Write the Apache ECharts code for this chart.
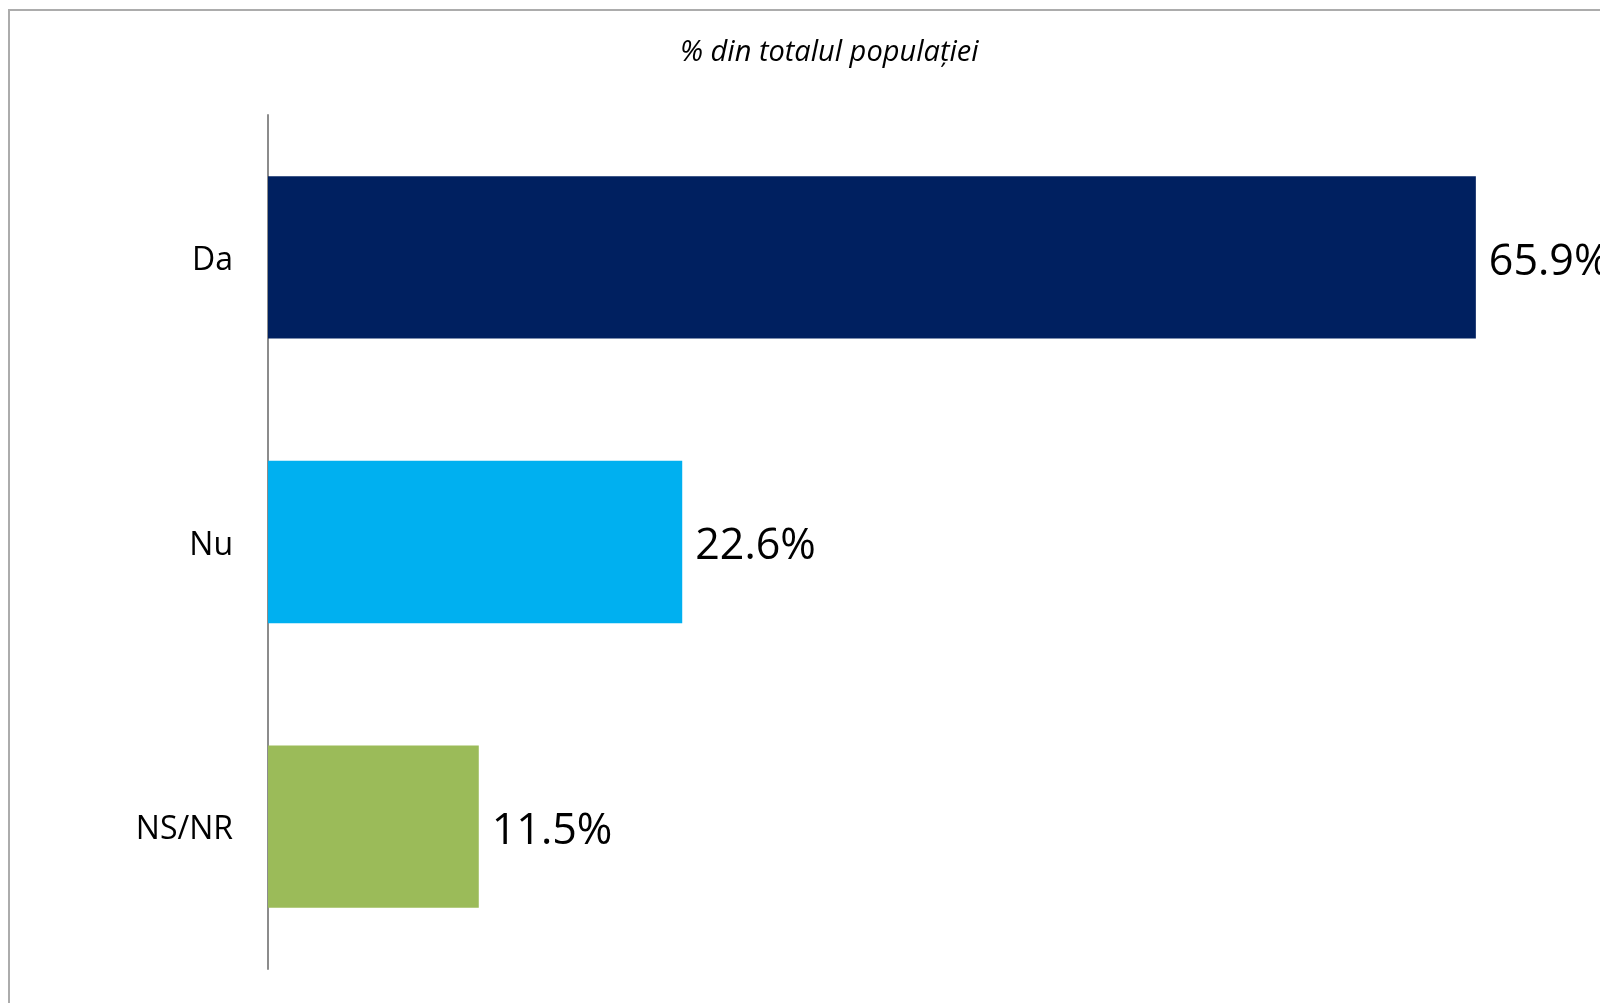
<!DOCTYPE html>
<html>
<head>
<meta charset="utf-8">
<script src="https://cdn.jsdelivr.net/npm/echarts@6/dist/echarts.min.js"></script>
<style>
  html, body { margin: 0; padding: 0; background: #fff; }
  #chart { width: 1600px; height: 1003px; }
</style>
</head>
<body>
<div id="chart"></div>
<script>
// answers and shares (% of population)
var categories = ['Da', 'Nu', 'NS/NR'];
var values = [65.9, 22.6, 11.5];
var barColors = ['#002060', '#00b0f0', '#9bbb59'];

var chart = echarts.init(document.getElementById('chart'));
chart.setOption({
  animation: false,
  backgroundColor: '#fff',
  title: {
    text: '% din totalul populației',
    left: 675,
    top: 33,
    textStyle: {
      fontFamily: 'Open Sans',
      fontStyle: 'italic',
      fontWeight: 'normal',
      fontSize: 29,
      color: '#000'
    }
  },
  graphic: [
    {
      type: 'rect',
      shape: { x: 9, y: 10, width: 1800, height: 1200 },
      style: { fill: 'none', stroke: '#acacac', lineWidth: 2 },
      silent: true
    }
  ],
  grid: {
    left: 268,
    top: 115,
    width: 1283,
    bottom: 34
  },
  xAxis: {
    type: 'value',
    min: 0,
    max: 70,
    show: false
  },
  yAxis: {
    type: 'category',
    data: categories,
    inverse: true,
    axisTick: { show: false },
    axisLine: { lineStyle: { color: '#8c8c8c', width: 2 } },
    axisLabel: {
      margin: 35,
      formatter: '{c|{value}}',
      rich: {
        c: {
          fontFamily: 'Open Sans',
          fontSize: 32,
          color: '#000',
          padding: [7, 0, 0, 0]
        }
      }
    }
  },
  series: [
    {
      type: 'bar',
      data: values.map(function (v, i) {
        return { value: v, itemStyle: { color: barColors[i] } };
      }),
      barCategoryGap: '43%',
      label: {
        show: true,
        position: 'right',
        distance: 13,
        offset: [0, 5],
        fontFamily: 'Open Sans',
        fontSize: 43,
        color: '#000',
        formatter: function (p) { return p.value.toFixed(1) + '%'; }
      }
    }
  ]
});
</script>
</body>
</html>
